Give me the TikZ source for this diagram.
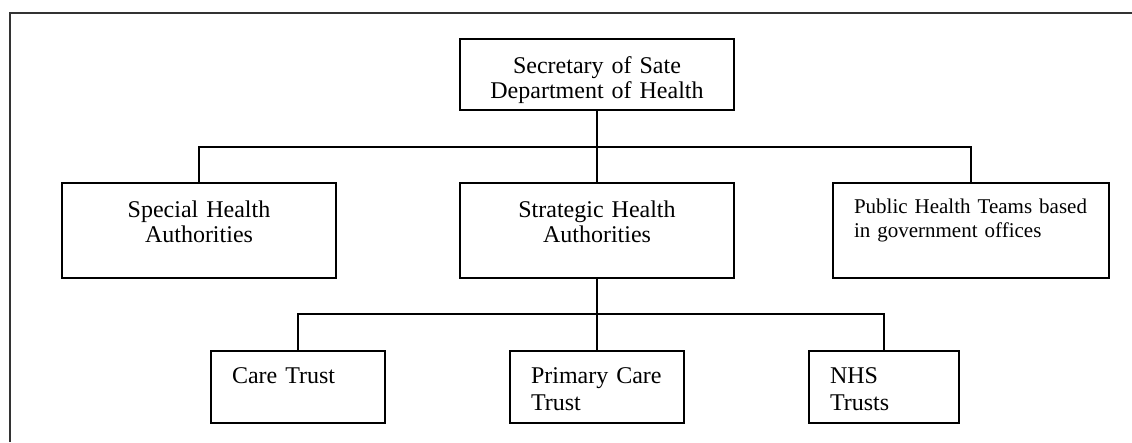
\documentclass[tikz,border=0pt]{standalone}
\usepackage{fontspec}
\setmainfont{Liberation Serif}
\usetikzlibrary{calc}

\begin{document}
\begin{tikzpicture}[x=1pt, y=-1pt,
    box/.style={draw, line width=2pt, inner ysep=0pt, text height=34pt, text depth=61pt},
    midbox/.style={box, inner xsep=10pt, align=center, font=\fontsize{24}{25}\selectfont},
    lowbox/.style={box, inner xsep=21pt, align=left, text height=32pt, text depth=40pt, font=\fontsize{24}{27}\selectfont},
    link/.style={line width=2pt}]
    \useasboundingbox (0,0) rectangle (1132,442);

    % draw frame
    \draw[line width=2pt, black!80] (10,442) -- (10,13) -- (1132,13);

    % draw top box
    \node[midbox, text width=254pt, text depth=37pt] (sec) at (597,74.5) {Secretary of Sate\\Department of Health};

    % draw middle row
    \node[midbox, text width=254pt] (spec) at (199,230.5) {Special Health\\Authorities};
    \node[midbox, text width=254pt] (strat) at (597,230.5) {Strategic Health\\Authorities};
    \node[box, inner xsep=21pt, align=left, text width=234pt, text height=30pt, text depth=65pt,
          font=\fontsize{21}{24}\selectfont] (pub) at (971,230.5) {Public Health Teams based\\in government offices};

    % draw bottom row
    \node[lowbox, text width=132pt] (care) at (298,387) {Care Trust};
    \node[lowbox, text width=132pt] (prim) at (597,387) {Primary Care\\Trust};
    \node[lowbox, text width=108pt] (nhs) at (884,387) {NHS\\Trusts};

    % draw connectors
    \coordinate (hub1) at (597,147);
    \coordinate (hub2) at (597,314);
    \draw[link] (sec.south) -- (strat.north);
    \draw[link] (spec.north) |- (hub1) -| (pub.north);
    \draw[link] (strat.south) -- (prim.north);
    \draw[link] (care.north) |- (hub2) -| (nhs.north);
\end{tikzpicture}
\end{document}
